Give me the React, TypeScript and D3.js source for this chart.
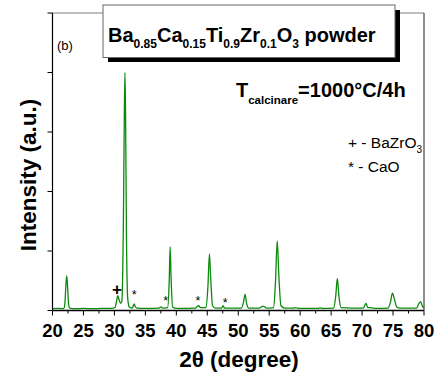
import * as d3 from "d3"

// XRD pattern: [2θ (deg), intensity (a.u.)]
const pattern: [number, number][] = [
  [20, 3], [21, 3.5], [21.8, 3], [22.0, 12], [22.15, 40], [22.3, 58], [22.45, 38], [22.6, 10], [22.8, 4],
  [23.5, 3], [25, 3.5], [26.5, 3], [28, 3.5], [29.5, 3.5],
  [30.1, 5], [30.35, 16], [30.55, 25], [30.75, 18], [31.0, 12], [31.2, 16],
  [31.45, 150], [31.6, 330], [31.7, 400], [31.8, 330], [31.95, 120], [32.15, 20], [32.4, 6],
  [32.9, 4], [33.05, 8], [33.2, 11], [33.35, 7], [33.6, 4], [35, 3.5],
  [37.2, 4], [37.5, 6], [37.8, 4], [38.6, 5], [38.85, 50], [39.0, 107], [39.15, 55], [39.4, 6], [40, 3.5],
  [43.1, 4], [43.4, 7], [43.6, 8], [43.9, 5], [44.8, 5], [45.1, 40], [45.35, 95], [45.55, 55], [45.85, 8], [46.3, 4],
  [47.3, 4], [47.55, 8], [47.8, 4], [50.5, 4], [50.85, 14], [51.1, 27], [51.35, 12], [51.7, 4],
  [53.4, 4], [53.9, 7], [54.1, 7], [54.6, 4], [55.7, 5], [56.0, 45], [56.3, 117], [56.55, 60], [56.9, 8], [57.5, 4],
  [59.0, 4], [59.3, 5], [59.7, 3.5], [62.9, 3.5], [63.2, 4.5], [63.6, 3.5],
  [65.4, 4], [65.75, 25], [66.0, 54], [66.25, 25], [66.6, 5],
  [70.2, 4], [70.5, 10], [70.65, 12], [70.9, 5], [71.6, 4.5], [72.2, 3.5],
  [74.2, 4], [74.6, 15], [74.9, 29], [75.2, 20], [75.6, 6], [76.2, 4],
  [78.8, 4], [79.2, 12], [79.45, 15], [79.75, 7], [80, 4],
]

// phase marks above the small peaks
const bazro3Marks: [number, number][] = [[30.4, 36]]
const caoMarks: [number, number][] = [[33.2, 32], [38.3, 21], [43.5, 21], [47.9, 17.5]]

const xTicks = [20, 25, 30, 35, 40, 45, 50, 55, 60, 65, 70, 75, 80]
const xMinorTicks = [22.5, 27.5, 32.5, 37.5, 42.5, 47.5, 52.5, 57.5, 62.5, 67.5, 72.5, 77.5]
const yTicks = [0, 100, 200, 300, 400, 500]

const font = "'Liberation Sans', Arial, sans-serif"

export default function App() {
  const W = 441
  const H = 379
  const left = 52.5
  const right = 424
  const top = 13
  const bottom = 310.5

  const x = d3.scaleLinear().domain([20, 80]).range([left, right])
  const y = d3.scaleLinear().domain([0, 500]).range([bottom, top])

  const line = d3
    .line<[number, number]>()
    .x((d) => x(d[0]))
    .y((d) => y(d[1]))
    .curve(d3.curveMonotoneX)

  return (
    <svg
      width={W}
      height={H}
      style={{ position: "absolute", left: 0, top: 0, background: "#fff" }}
      fontFamily={font}
    >
      {/* frame */}
      <line x1={left} x2={right} y1={top} y2={top} stroke="#808080" strokeWidth={1.2} />
      <line x1={right} x2={right} y1={top} y2={bottom} stroke="#222" strokeWidth={1} />

      {/* data */}
      <path d={line(pattern) ?? ""} fill="none" stroke="#0a8a0a" strokeWidth={1.3} />

      {/* y axis */}
      <line x1={left} x2={left} y1={top} y2={bottom} stroke="#000" strokeWidth={1.2} />
      {yTicks.map((t) => (
        <line key={t} x1={left - 5} x2={left} y1={y(t)} y2={y(t)} stroke="#000" strokeWidth={1} />
      ))}

      {/* x axis */}
      <line x1={left} x2={right} y1={bottom} y2={bottom} stroke="#000" strokeWidth={1.4} />
      {xTicks.map((t) => (
        <g key={t}>
          <line x1={x(t)} x2={x(t)} y1={bottom} y2={bottom + 5} stroke="#000" strokeWidth={1} />
          <text x={x(t)} y={336.5} textAnchor="middle" fontSize={18.5} fontWeight="bold">
            {t}
          </text>
        </g>
      ))}
      {xMinorTicks.map((t) => (
        <line key={t} x1={x(t)} x2={x(t)} y1={bottom} y2={bottom + 3} stroke="#000" strokeWidth={1} />
      ))}

      <text x={239} y={367} textAnchor="middle" fontSize={22.5} fontWeight="bold">
        2θ (degree)
      </text>
      <text
        transform={`translate(36,${175}) rotate(-90)`}
        textAnchor="middle"
        fontSize={22.5}
        fontWeight="bold"
      >
        Intensity (a.u.)
      </text>

      {/* phase marks */}
      {bazro3Marks.map(([t, v], i) => (
        <text key={i} x={x(t)} y={y(v)} dy="0.35em" textAnchor="middle" fontSize={17} fontWeight="bold">
          +
        </text>
      ))}
      {caoMarks.map(([t, v], i) => (
        <text key={i} x={x(t)} y={y(v)} dy="0.57em" textAnchor="middle" fontSize={12.5}>
          *
        </text>
      ))}

      <text x={57} y={50} fontSize={13}>
        (b)
      </text>

      {/* title box */}
      <rect x={108} y={10} width={292} height={52} fill="#000" />
      <rect x={103} y={5} width={292} height={52.5} fill="#fff" stroke="#666" strokeWidth={1} />
      <text x={108} y={42} fontSize={20} fontWeight="bold">
        Ba<tspan fontSize={12} dy={6}>0.85</tspan>
        <tspan dy={-6}>Ca</tspan>
        <tspan fontSize={12} dy={6}>0.15</tspan>
        <tspan dy={-6}>Ti</tspan>
        <tspan fontSize={12} dy={6}>0.9</tspan>
        <tspan dy={-6}>Zr</tspan>
        <tspan fontSize={12} dy={6}>0.1</tspan>
        <tspan dy={-6}>O</tspan>
        <tspan fontSize={12} dy={6}>3</tspan>
        <tspan dy={-6}> powder</tspan>
      </text>

      <text x={236} y={97} fontSize={20} fontWeight="bold">
        T<tspan fontSize={11.5} dy={7}>calcinare</tspan>
        <tspan dy={-7}>=1000°C/4h</tspan>
      </text>

      {/* legend */}
      <text x={348} y={148} fontSize={15.5}>
        + - BaZrO<tspan fontSize={10} dy={5}>3</tspan>
      </text>
      <text x={348} y={172} fontSize={15.5}>
        * - CaO
      </text>
    </svg>
  )
}
